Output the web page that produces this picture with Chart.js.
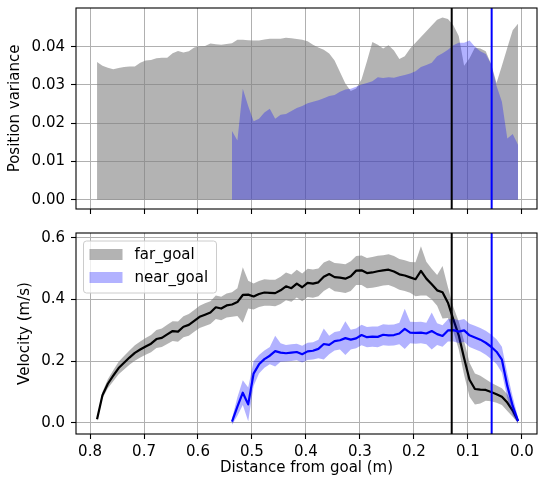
<!DOCTYPE html>
<html>
<head>
<meta charset="utf-8">
<script src="https://cdn.jsdelivr.net/npm/chart.js@4.4.1/dist/chart.umd.min.js"></script>
<style>
  html, body { margin: 0; padding: 0; background: #fff; }
  #wrap { position: relative; width: 538px; height: 482px; }
  canvas { position: absolute; left: 0; display: block; }
  #top { top: 0; }
  #bottom { top: 221px; }
</style>
</head>
<body>
<div id="wrap">
  <canvas id="top" width="538" height="221"></canvas>
  <canvas id="bottom" width="538" height="261"></canvas>
</div>
<script>
// distance from goal (m), one sample every 1 cm
const distance = [
  0.787, 0.777, 0.767, 0.757, 0.747, 0.737, 0.727, 0.717, 0.707, 0.697,
  0.687, 0.677, 0.667, 0.657, 0.647, 0.637, 0.627, 0.617, 0.607, 0.597,
  0.587, 0.577, 0.567, 0.557, 0.547, 0.537, 0.527, 0.517, 0.507, 0.497,
  0.487, 0.477, 0.467, 0.457, 0.447, 0.437, 0.427, 0.417, 0.407, 0.397,
  0.387, 0.377, 0.367, 0.357, 0.347, 0.337, 0.327, 0.317, 0.307, 0.297,
  0.287, 0.277, 0.267, 0.257, 0.247, 0.237, 0.227, 0.217, 0.207, 0.197,
  0.187, 0.177, 0.167, 0.157, 0.147, 0.137, 0.127, 0.117, 0.107, 0.097,
  0.087, 0.077, 0.067, 0.057, 0.047, 0.037, 0.027, 0.017, 0.007
];
// near_goal runs start at 0.537 m
const nearDistance = distance.slice(25);

const seriesNames = ['far_goal', 'near_goal'];

const farVariance = [
  0.036, 0.035, 0.0345, 0.0341, 0.0344, 0.0347, 0.0348, 0.0348, 0.0358, 0.0364,
  0.0365, 0.037, 0.0371, 0.0371, 0.0383, 0.0389, 0.0385, 0.0388, 0.0398, 0.0401,
  0.0402, 0.0408, 0.0406, 0.0405, 0.0407, 0.0409, 0.0418, 0.0418, 0.0417, 0.0416,
  0.0416, 0.0419, 0.0421, 0.0421, 0.0421, 0.0423, 0.0422, 0.042, 0.0418, 0.0414,
  0.0405, 0.0398, 0.0392, 0.0382, 0.0364, 0.0334, 0.0304, 0.0284, 0.0291, 0.0315,
  0.0362, 0.0412, 0.0405, 0.0395, 0.0404, 0.039, 0.0368, 0.0375, 0.0395, 0.041,
  0.0425, 0.044, 0.0455, 0.047, 0.0476, 0.0472, 0.0456, 0.0428, 0.035, 0.037,
  0.0398, 0.0395, 0.0388, 0.0355, 0.0305, 0.035, 0.0397, 0.0443, 0.046
];
const nearVariance = [
  0.018, 0.0155, 0.029, 0.0245, 0.0205, 0.0212, 0.0228, 0.0238, 0.0212, 0.0222,
  0.0224, 0.0232, 0.024, 0.0245, 0.0252, 0.0256, 0.026, 0.0265, 0.0271, 0.0274,
  0.0282, 0.0288, 0.029, 0.0295, 0.0301, 0.0305, 0.031, 0.032, 0.0318, 0.032,
  0.0319, 0.0323, 0.0326, 0.033, 0.0336, 0.0347, 0.0352, 0.0358, 0.0375, 0.0383,
  0.0392, 0.0404, 0.041, 0.041, 0.0416, 0.04, 0.0388, 0.0381, 0.0355, 0.0298,
  0.0256, 0.016, 0.0172, 0.0143
];

const farVelocity = [
  0.012, 0.09, 0.127, 0.153, 0.178, 0.195, 0.212, 0.227, 0.238, 0.248,
  0.257, 0.272, 0.276, 0.287, 0.298, 0.296, 0.312, 0.318, 0.331, 0.344,
  0.351, 0.358, 0.375, 0.371, 0.381, 0.384, 0.392, 0.415, 0.416, 0.41,
  0.418, 0.423, 0.422, 0.421, 0.43, 0.443, 0.437, 0.452, 0.44, 0.454,
  0.452, 0.456, 0.474, 0.483, 0.473, 0.471, 0.468, 0.476, 0.494, 0.495,
  0.486, 0.488, 0.492, 0.495, 0.497, 0.491, 0.482, 0.478, 0.472, 0.466,
  0.493, 0.468, 0.45, 0.43, 0.424, 0.39, 0.336, 0.284, 0.21, 0.14,
  0.11, 0.108, 0.107, 0.1, 0.093, 0.085, 0.066, 0.04, 0.006
];
const farVelocityStd = [
  0.006, 0.01, 0.015, 0.018, 0.02, 0.022, 0.023, 0.025, 0.026, 0.027,
  0.028, 0.029, 0.03, 0.031, 0.032, 0.033, 0.034, 0.035, 0.035, 0.036,
  0.037, 0.037, 0.038, 0.038, 0.039, 0.04, 0.045, 0.09, 0.045, 0.042,
  0.042, 0.043, 0.042, 0.043, 0.044, 0.045, 0.044, 0.045, 0.045, 0.046,
  0.046, 0.045, 0.046, 0.045, 0.046, 0.046, 0.047, 0.048, 0.047, 0.048,
  0.049, 0.05, 0.05, 0.049, 0.05, 0.05, 0.05, 0.05, 0.05, 0.055,
  0.08, 0.055, 0.05, 0.05, 0.085, 0.05, 0.04, 0.045, 0.055, 0.055,
  0.05, 0.045, 0.035, 0.03, 0.028, 0.027, 0.027, 0.02, 0.006
];
const nearVelocity = [
  0.004, 0.053, 0.098, 0.06, 0.16, 0.19, 0.207, 0.218, 0.233, 0.228,
  0.226, 0.228, 0.23, 0.223, 0.232, 0.234, 0.24, 0.256, 0.253, 0.265,
  0.268, 0.275, 0.27, 0.274, 0.285, 0.278, 0.28, 0.279, 0.286, 0.284,
  0.285, 0.29, 0.305, 0.293, 0.292, 0.293, 0.29, 0.298, 0.288, 0.282,
  0.3, 0.301, 0.296, 0.3, 0.284, 0.277, 0.27, 0.26, 0.247, 0.231,
  0.205, 0.12, 0.055, 0.006
];
const nearVelocityStd = [
  0.01, 0.03, 0.04, 0.055, 0.04, 0.03, 0.028, 0.028, 0.05, 0.03,
  0.027, 0.027, 0.027, 0.027, 0.028, 0.028, 0.03, 0.05, 0.03, 0.03,
  0.03, 0.055, 0.032, 0.032, 0.033, 0.033, 0.033, 0.034, 0.034, 0.034,
  0.034, 0.035, 0.065, 0.035, 0.035, 0.035, 0.035, 0.06, 0.035, 0.035,
  0.036, 0.037, 0.037, 0.037, 0.038, 0.038, 0.038, 0.039, 0.04, 0.04,
  0.042, 0.04, 0.03, 0.01
];

// vertical markers: far_goal (black) and near_goal (blue)
const goalMarks = [0.13, 0.056];

const xTicks = [0.8, 0.7, 0.6, 0.5, 0.4, 0.3, 0.2, 0.1, 0.0];
const varianceTicks = [0.0, 0.01, 0.02, 0.03, 0.04];
const velocityTicks = [0.0, 0.2, 0.4, 0.6];

const X_MIN = -0.028, X_MAX = 0.826;
const VAR_MIN = -0.0024, VAR_MAX = 0.0501;
const VEL_MIN = -0.036, VEL_MAX = 0.616;

const GRID = '#b0b0b0';
const GRAY = 'rgba(128,128,128,0.6)';
const LIGHT_BLUE = 'rgba(0,0,255,0.3)';
const NONE = 'rgba(0,0,0,0)';
const markColors = ['#000000', '#0000ff'];

Chart.defaults.font.family = "'DejaVu Sans', sans-serif";
Chart.defaults.font.size = 15;
Chart.defaults.color = '#000';

const pts = (xs, ys) => xs.map((x, i) => ({ x: x, y: ys[i] }));

// drop the label overhang padding so the plot box sits exactly where we want it
const noPad = (a) => { a.paddingTop = 0; a.paddingBottom = 0; a.paddingLeft = 0; a.paddingRight = 0; };

const xAxis = (showLabels) => ({
  type: 'linear',
  reverse: true,
  min: X_MIN,
  max: X_MAX,
  afterBuildTicks: (a) => { a.ticks = xTicks.map(v => ({ value: v })); },
  afterFit: (a) => { a.height = showLabels ? 48 : 12; noPad(a); },
  grid: { color: GRID, lineWidth: 1, tickLength: 5, tickColor: '#000', tickWidth: 1.1 },
  border: { display: false },
  ticks: { display: showLabels, autoSkip: false, maxRotation: 0, padding: 4, callback: (v) => v.toFixed(1) },
  title: { display: showLabels, text: 'Distance from goal (m)', padding: { top: 0, bottom: 5 } }
});

const yAxis = (min, max, ticks, digits, text, pad) => ({
  type: 'linear',
  min: min,
  max: max,
  afterBuildTicks: (a) => { a.ticks = ticks.map(v => ({ value: v })); },
  afterFit: (a) => { a.width = 76; noPad(a); },
  grid: { color: GRID, lineWidth: 1, tickLength: 5, tickColor: '#000', tickWidth: 1.1 },
  border: { display: false },
  ticks: { autoSkip: false, padding: 6, callback: (v) => v.toFixed(digits) },
  title: { display: true, text: text, padding: { top: pad, bottom: 0 } }
});

const markLines = (lo, hi) => goalMarks.map((m, i) => ({
  data: [{ x: m, y: lo }, { x: m, y: hi }],
  borderColor: markColors[i],
  borderWidth: 2,
  pointRadius: 0,
  fill: false,
  order: 0
}));

// all four spines
const frame = {
  id: 'frame',
  afterDatasetsDraw(chart) {
    const { ctx, chartArea: a } = chart;
    ctx.save();
    ctx.strokeStyle = '#000';
    ctx.lineWidth = 1.1;
    ctx.strokeRect(a.left, a.top, a.right - a.left, a.bottom - a.top);
    ctx.restore();
  }
};

// matplotlib style legend in the upper left of the velocity axes
const legendBox = {
  id: 'legendBox',
  afterDraw(chart) {
    const { ctx, chartArea: a } = chart;
    const x = a.left + 7.5, y = a.top + 8, w = 133, h = 52, r = 3;
    ctx.save();
    ctx.beginPath();
    ctx.moveTo(x + r, y);
    ctx.arcTo(x + w, y, x + w, y + h, r);
    ctx.arcTo(x + w, y + h, x, y + h, r);
    ctx.arcTo(x, y + h, x, y, r);
    ctx.arcTo(x, y, x + w, y, r);
    ctx.closePath();
    ctx.fillStyle = 'rgba(255,255,255,0.8)';
    ctx.fill();
    ctx.strokeStyle = '#cccccc';
    ctx.lineWidth = 1;
    ctx.stroke();
    const swatches = [GRAY, LIGHT_BLUE];
    ctx.font = "15px 'DejaVu Sans'";
    ctx.textBaseline = 'middle';
    seriesNames.forEach((name, i) => {
      const cy = y + 14 + i * 23;
      ctx.fillStyle = swatches[i];
      ctx.fillRect(x + 6, cy - 6, 33, 11);
      ctx.fillStyle = '#000';
      ctx.fillText(name, x + 51, cy);
    });
    ctx.restore();
  }
};

const common = {
  responsive: false,
  devicePixelRatio: 1,
  animation: false,
  events: [],
  plugins: { legend: { display: false }, tooltip: { enabled: false } },
  elements: { point: { radius: 0 }, line: { tension: 0, borderJoinStyle: 'round' } }
};

new Chart(document.getElementById('top'), {
  type: 'line',
  data: {
    datasets: [
      ...markLines(VAR_MIN, VAR_MAX),
      {
        label: seriesNames[1],
        data: pts(nearDistance, nearVariance),
        backgroundColor: LIGHT_BLUE,
        borderColor: NONE,
        borderWidth: 0,
        fill: 'origin',
        order: 1
      },
      {
        label: seriesNames[0],
        data: pts(distance, farVariance),
        backgroundColor: GRAY,
        borderColor: NONE,
        borderWidth: 0,
        fill: 'origin',
        order: 2
      }
    ]
  },
  options: {
    ...common,
    layout: { autoPadding: false, padding: { top: 8, right: 1, left: 0, bottom: 0 } },
    scales: {
      x: xAxis(false),
      y: yAxis(VAR_MIN, VAR_MAX, varianceTicks, 2, 'Position variance', 6)
    }
  },
  plugins: [frame]
});

const farUpper = farVelocity.map((v, i) => v + farVelocityStd[i]);
const farLower = farVelocity.map((v, i) => v - farVelocityStd[i]);
const nearUpper = nearVelocity.map((v, i) => v + nearVelocityStd[i]);
const nearLower = nearVelocity.map((v, i) => v - nearVelocityStd[i]);

new Chart(document.getElementById('bottom'), {
  type: 'line',
  data: {
    datasets: [
      ...markLines(VEL_MIN, VEL_MAX),
      // 2: near mean, 3: near upper, 4: near lower
      { label: seriesNames[1], data: pts(nearDistance, nearVelocity), borderColor: '#0000ff', borderWidth: 2.2, fill: false, order: 1 },
      { data: pts(nearDistance, nearUpper), backgroundColor: LIGHT_BLUE, borderColor: NONE, borderWidth: 0, fill: 4, order: 2 },
      { data: pts(nearDistance, nearLower), borderColor: NONE, borderWidth: 0, fill: false, order: 3 },
      // 5: far mean, 6: far upper, 7: far lower
      { label: seriesNames[0], data: pts(distance, farVelocity), borderColor: '#000000', borderWidth: 2.2, fill: false, order: 4 },
      { data: pts(distance, farUpper), backgroundColor: GRAY, borderColor: NONE, borderWidth: 0, fill: 7, order: 5 },
      { data: pts(distance, farLower), borderColor: NONE, borderWidth: 0, fill: false, order: 6 }
    ]
  },
  options: {
    ...common,
    layout: { autoPadding: false, padding: { top: 12, right: 1, left: 0, bottom: 0 } },
    scales: {
      x: xAxis(true),
      y: yAxis(VEL_MIN, VEL_MAX, velocityTicks, 1, 'Velocity (m/s)', 16)
    }
  },
  plugins: [frame, legendBox]
});
</script>
</body>
</html>
